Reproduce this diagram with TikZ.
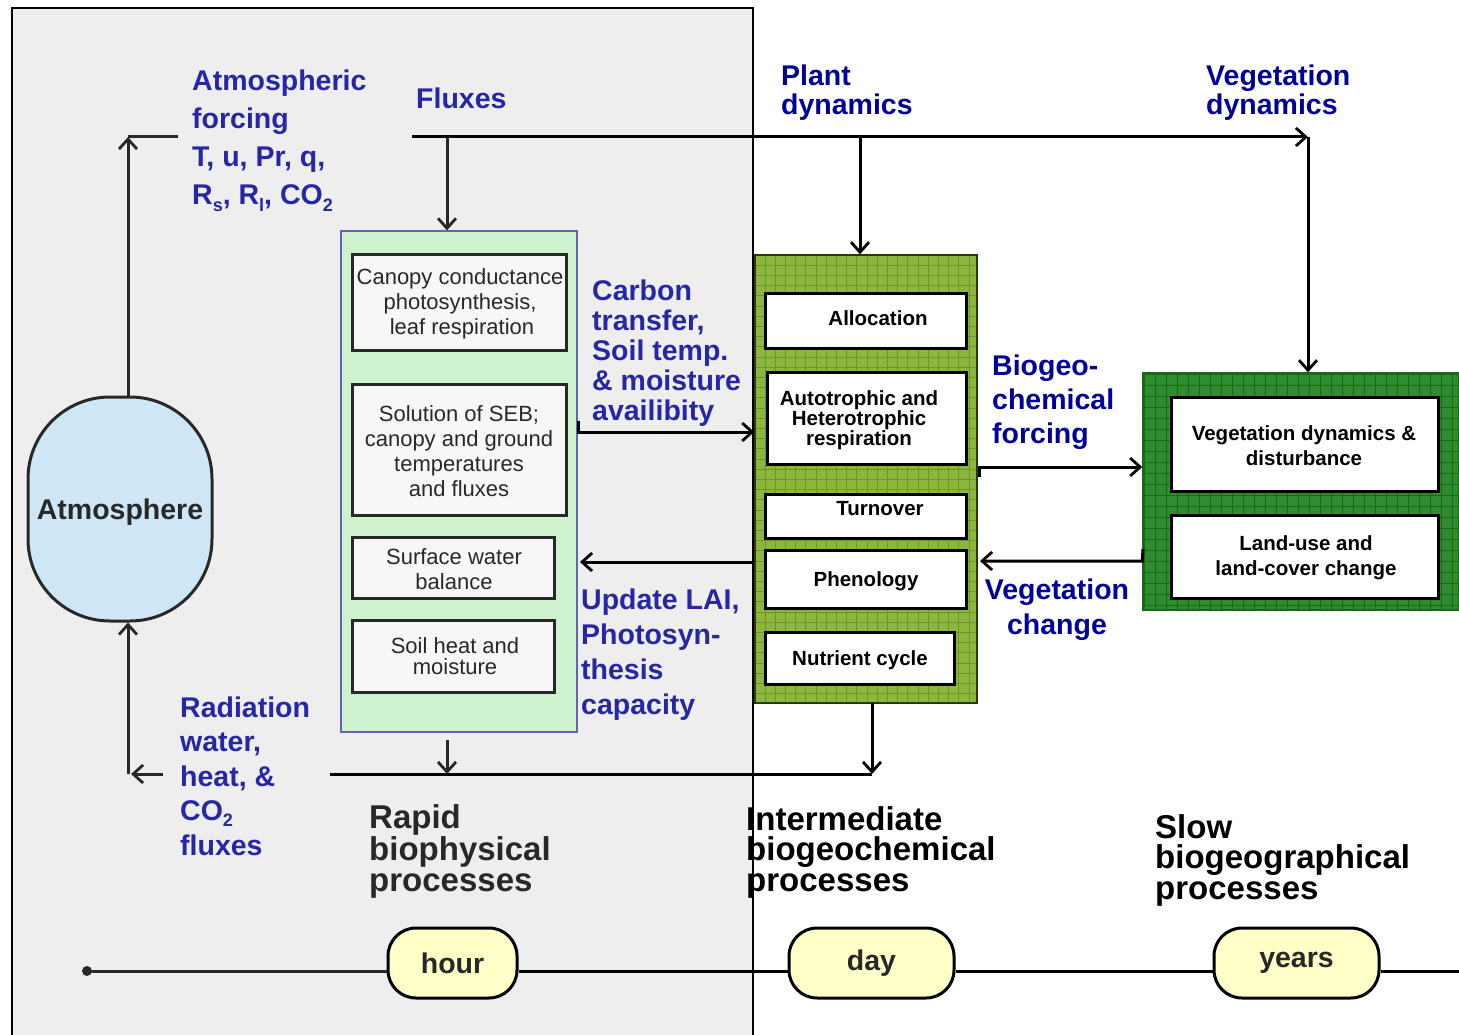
\documentclass[tikz,border=0pt]{standalone}
\usepackage{fontspec}
\setmainfont{Liberation Sans}
\usetikzlibrary{arrows.meta}
\definecolor{lblue}{RGB}{38,38,168}
\definecolor{nblue}{RGB}{0,0,155}
\definecolor{panelgray}{RGB}{238,238,238}
\definecolor{atmblue}{RGB}{206,230,245}
\definecolor{lgreen}{RGB}{206,242,206}
\definecolor{lgborder}{RGB}{100,100,180}
\definecolor{oliveg}{RGB}{140,182,62}
\definecolor{olivegrid}{RGB}{108,150,40}
\definecolor{dgreen}{RGB}{48,140,48}
\definecolor{dgreengrid}{RGB}{25,105,25}
\definecolor{pillyel}{RGB}{255,255,200}
\definecolor{darkln}{RGB}{40,40,40}
\newcommand\myfs[2]{\fontsize{#1}{#2}\selectfont}
\newcommand\mysub[1]{\raisebox{-6pt}{\myfs{18}{18}#1}}
\tikzset{
  conn/.style={line width=3pt, draw=black},
  connL/.style={line width=3pt, draw=darkln},
  tip/.style={-{Straight Barb[length=10pt,width=18pt,line width=2.8pt]}},
  panelbox/.style={draw=black, line width=2pt, fill=panelgray, inner sep=0, minimum width=741pt, minimum height=1030pt},
  atmbox/.style={draw=darkln, line width=3pt, fill=atmblue, rounded corners=82pt, minimum width=184pt, minimum height=224pt, inner sep=0, font=\bfseries\myfs{28.5}{30}, text=darkln},
  lgbox/.style={draw=lgborder, line width=1.2pt, fill=lgreen, inner sep=0},
  leftbox/.style={draw=darkln, line width=3pt, fill=white!94!gray, inner sep=0},
  whitebox/.style={draw=black, line width=3pt, fill=white, inner sep=0},
  oliveboxs/.style={draw=black!70!oliveg, line width=1.5pt, fill=oliveg, inner sep=0},
  dgreenbox/.style={draw=dgreengrid, line width=1.5pt, fill=dgreen, inner sep=0},
  lefttxt/.style={font=\myfs{22}{25}, text=darkln, align=center, inner sep=0},
  midtxt/.style={font=\bfseries\myfs{20.5}{25}, text=black, align=center, inner sep=0},
  bluelab/.style={font=\bfseries\myfs{28.5}{38}, text=lblue, align=left, inner sep=0, anchor=base west},
  navylab/.style={font=\bfseries\myfs{28.5}{29}, text=nblue, align=left, inner sep=0, anchor=base west},
  proclab/.style={font=\bfseries\myfs{33}{30.5}, align=left, inner sep=0, anchor=base west},
  pillbox/.style={draw=black, line width=3pt, fill=pillyel, rounded corners=28pt, minimum height=70pt, inner sep=0, font=\bfseries\myfs{28.5}{30}, text=darkln}
}
\begin{document}
\begin{tikzpicture}[x=1pt,y=-1pt]
\useasboundingbox (0,0) rectangle (1459,1035);
\fill[white] (0,0) rectangle (1459,1035);

% left panel
\node[panelbox] (panel) at (382.5,523) {};

% atmosphere
\node[atmbox] (atm) at (120,509) {\raisebox{0pt}[21.5pt][0pt]{Atmosphere}};

% rapid processes box
\node[lgbox, minimum width=236pt, minimum height=501pt] (rapid) at (459,481.5) {};
\node[leftbox, minimum width=214pt, minimum height=96pt] (canopy) at (459,302) {};
\node[leftbox, minimum width=214pt, minimum height=131pt] (seb) at (459,449.5) {};
\node[leftbox, minimum width=202pt, minimum height=61pt] (swb) at (453,567.5) {};
\node[leftbox, minimum width=202pt, minimum height=72pt] (soil) at (453,656) {};
\node[lefttxt] (canopyt) at (460,304) {Canopy conductance\\photosynthesis,\\\hspace*{4pt}leaf respiration};
\node[lefttxt] (sebt) at (459,451) {Solution of SEB;\\canopy and ground\\temperatures\\and fluxes};
\node[lefttxt] (swbt) at (454,569) {Surface water\\balance};
\node[lefttxt, font=\myfs{22}{21}] (soilt) at (455,656) {Soil heat and\\moisture};

% intermediate box
\node[oliveboxs, minimum width=222pt, minimum height=448pt] (inter) at (866,479) {};
\draw[olivegrid, line width=0.9pt, step=10.2pt] (756,702) grid (976,256);
\node[whitebox, minimum width=201pt, minimum height=55pt] (alloc) at (865.5,320.5) {};
\node[whitebox, minimum width=199pt, minimum height=92pt] (autor) at (866.5,418) {};
\node[whitebox, minimum width=201pt, minimum height=44pt] (turn) at (865.5,516) {};
\node[whitebox, minimum width=201pt, minimum height=58pt] (phen) at (865.5,579) {};
\node[whitebox, minimum width=189pt, minimum height=52pt] (nutr) at (859.5,658) {};
\node[midtxt] (alloct) at (878,318) {Allocation};
\node[midtxt, font=\bfseries\myfs{20.5}{18.5}] (autort) at (859,420) {Autotrophic and\\Heterotrophic\\respiration};
\node[midtxt] (turnt) at (880,509) {Turnover};
\node[midtxt] (phent) at (866,581) {Phenology};
\node[midtxt] (nutrt) at (860,660) {Nutrient cycle};

% slow box
\node[dgreenbox, minimum width=316pt, minimum height=237pt] (slow) at (1301,491.5) {};
\draw[dgreengrid, line width=0.9pt, step=11pt] (1144,609) grid (1459,374);
\node[whitebox, minimum width=267pt, minimum height=94pt] (vegdyn) at (1304.5,444) {};
\node[whitebox, minimum width=267pt, minimum height=83pt] (luc) at (1304.5,556.5) {};
\node[midtxt] (vegdynt) at (1304,446) {Vegetation dynamics \&\\disturbance};
\node[midtxt] (luct) at (1306,558) {Land-use and\\land-cover change};

% labels (anchor = baseline of the last line)
\node[bluelab] (forc) at (192,205) {Atmospheric\\forcing\\T, u, Pr, q,\\R\mysub{s}, R\mysub{l}, CO\mysub{2}};
\node[bluelab] (flux) at (416,109) {Fluxes};
\node[navylab] (plant) at (781,115) {Plant\\dynamics};
\node[navylab] (vegd) at (1206,115) {Vegetation\\dynamics};
\node[bluelab, font=\bfseries\myfs{28.5}{30}] (carb) at (592,420) {Carbon\\transfer,\\Soil temp.\\\& moisture\\availibity};
\node[bluelab, font=\bfseries\myfs{28.5}{35}] (upd) at (581,714) {Update LAI,\\Photosyn-\\thesis\\capacity};
\node[navylab, font=\bfseries\myfs{28.5}{34}] (bgc) at (992,443) {Biogeo-\\chemical\\forcing};
\node[navylab, font=\bfseries\myfs{28.5}{35}, align=center, anchor=base] (vch) at (1057,634) {Vegetation\\change};
\node[bluelab, font=\bfseries\myfs{28.5}{34.5}] (rad) at (180,855) {Radiation\\water,\\heat, \&\\CO\mysub{2}\\fluxes};
\node[proclab, text=darkln] (rapidl) at (369,891) {Rapid\\biophysical\\processes};
\node[proclab] (interl) at (746,891) {Intermediate\\biogeochemical\\processes};
\node[proclab] (slowl) at (1155,899) {Slow\\biogeographical\\processes};

% connectors
\coordinate (cTL) at (128,137);
\coordinate (fL) at (178,137);
\coordinate (fR) at (412,137);
\coordinate (cTR) at (1308,137);
\coordinate (fluxX) at (447,137);
\coordinate (plantX) at (860,137);
\draw[connL] (fL) -- (cTL);
\draw[connL, tip] (cTL |- atm.north) -- (cTL);
\draw[conn, tip] (fR) -- (cTR);
\draw[conn, tip] (cTR) -- (cTR |- slow.north);
\draw[connL, tip] (fluxX) -- (fluxX |- rapid.north);
\draw[conn, tip] (plantX) -- (plantX |- inter.north);

\coordinate (carbS) at (578,432);
\draw[conn, tip] (578,421) -- (carbS) -- (carbS -| inter.west);
\coordinate (updE) at (580,562);
\draw[conn, tip] (inter.west |- updE) -- (updE);
\coordinate (bioS) at (979,467);
\draw[conn, tip] (979,477) -- (bioS) -- (bioS -| slow.west);
\coordinate (vchE) at (980,561);
\draw[conn, tip] (1143,549) -- (slow.west |- vchE) -- (vchE);

\coordinate (botY) at (447,774);
\coordinate (botL) at (330,774);
\coordinate (radE) at (131,774);
\coordinate (radS) at (163,774);
\coordinate (radC) at (128,774);
\draw[connL, tip] (447,740) -- (botY);
\draw[conn] (botL) -- (872,774);
\draw[conn, tip] (872,703) -- (872,774);
\draw[connL, tip] (radS) -- (radE);
\draw[connL, tip] (radC) -- (radC |- atm.south);

% timeline
\coordinate (tl0) at (87,971);
\coordinate (tlE) at (1459,971);
\node[pillbox, minimum width=129pt] (hour) at (452.5,963) {hour};
\node[pillbox, minimum width=165pt] (day) at (871.5,963) {day};
\node[pillbox, minimum width=165pt] (years) at (1296.5,963) {years};
\fill[darkln] (tl0) circle (5pt);
\draw[connL] (tl0) -- (tl0 -| hour.west);
\draw[conn] (hour.east |- tl0) -- (day.west |- tl0);
\draw[conn] (day.east |- tl0) -- (years.west |- tl0);
\draw[conn] (years.east |- tl0) -- (tlE);
\end{tikzpicture}
\end{document}
